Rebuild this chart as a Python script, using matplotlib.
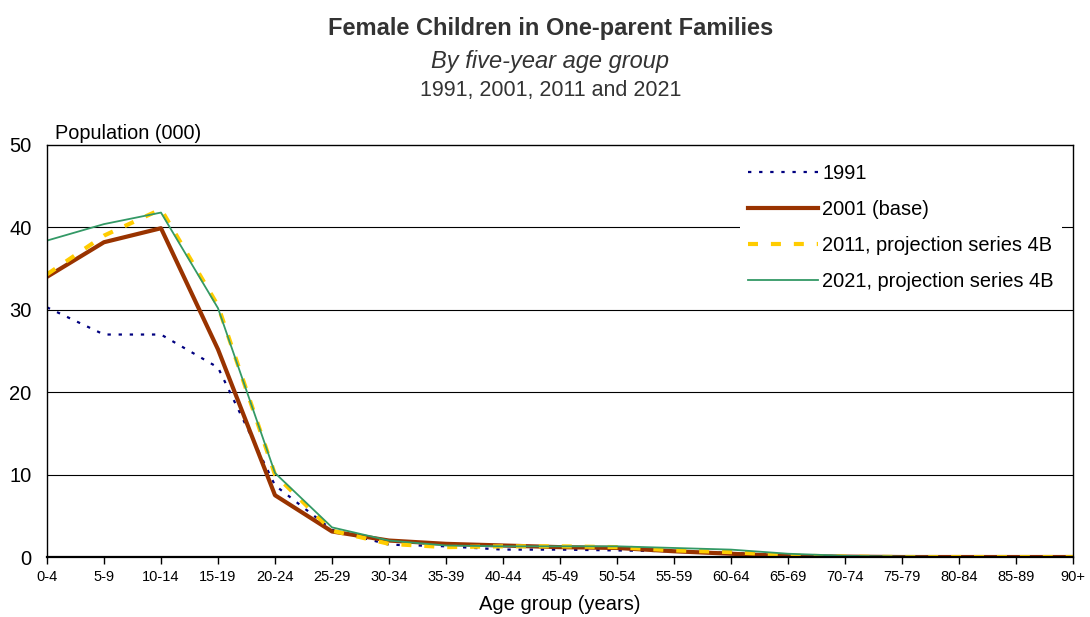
import matplotlib
matplotlib.use('Agg')
from matplotlib import pyplot as plt

plt.rcParams['font.family'] = ['Liberation Sans', 'DejaVu Sans']

ageGroups = ['0-4', '5-9', '10-14', '15-19', '20-24', '25-29', '30-34', '35-39',
             '40-44', '45-49', '50-54', '55-59', '60-64', '65-69', '70-74',
             '75-79', '80-84', '85-89', '90+']

pop1991 = [30.3, 27.0, 27.0, 23.0, 8.7, 3.3, 1.5, 1.3, 0.9, 0.9, 0.8, 0.7,
           0.5, 0.2, 0.1, 0.0, 0.0, 0.0, 0.0]
pop2001 = [34.0, 38.2, 39.9, 25.2, 7.5, 3.1, 2.0, 1.6, 1.4, 1.2, 1.1, 0.7,
           0.4, 0.1, 0.05, 0.0, 0.0, 0.0, 0.0]
pop2011 = [34.3, 39.0, 42.2, 30.5, 10.0, 3.2, 1.6, 1.2, 1.3, 1.3, 1.2, 0.8,
           0.6, 0.2, 0.05, 0.0, 0.0, 0.0, 0.0]
pop2021 = [38.4, 40.4, 41.8, 30.2, 10.2, 3.6, 2.0, 1.4, 1.3, 1.3, 1.3, 1.1,
           0.9, 0.4, 0.15, 0.05, 0.0, 0.0, 0.0]

fig = plt.figure(figsize=(10.9, 6.17), dpi=100)
ax = fig.add_axes([0.0431, 0.0972, 0.9413, 0.6678])

x = list(range(len(ageGroups)))
ax.plot(x, pop1991, color='#000080', lw=1.6, linestyle=(0, (1.5, 3.5)), label='1991')
ax.plot(x, pop2001, color='#993300', lw=3.0, label='2001 (base)')
ax.plot(x, pop2011, color='#FFCC00', lw=3.0, linestyle=(0, (2.4, 3.1)),
        label='2011, projection series 4B')
ax.plot(x, pop2021, color='#339966', lw=1.3, label='2021, projection series 4B')

ax.set_xlim(0, len(ageGroups) - 1)
ax.set_ylim(0, 50)
ax.set_xticks(x)
ax.set_xticklabels(ageGroups, fontsize=10.5)
ax.set_yticks([0, 10, 20, 30, 40, 50])
ax.tick_params(axis='y', length=0, labelsize=14.5, pad=11)
ax.tick_params(axis='x', length=5, width=1, direction='out', pad=4)
for y in [10, 20, 30, 40]:
    ax.axhline(y, color='black', lw=0.8, zorder=0)
for s in ax.spines.values():
    s.set_linewidth(1.0)
ax.spines['bottom'].set_linewidth(1.6)

ax.set_xlabel('Age group (years)', fontsize=14.5, labelpad=8)
ax.text(0.008, 1.006, 'Population (000)', transform=ax.transAxes, fontsize=14.3,
        ha='left', va='bottom')

leg = ax.legend(loc='upper right', bbox_to_anchor=(0.999, 0.997), fontsize=14.4,
                handlelength=3.5, handletextpad=0.2, labelspacing=0.85,
                frameon=True, fancybox=False, borderpad=0.4)
leg.get_frame().set_edgecolor('none')
leg.get_frame().set_facecolor('white')
leg.get_frame().set_alpha(1)

fig.text(0.505, 0.953, 'Female Children in One-parent Families', ha='center',
         va='center', fontsize=17, fontweight='bold', color='#333333')
fig.text(0.505, 0.901, 'By five-year age group', ha='center', va='center',
         fontsize=17, style='italic', color='#333333')
fig.text(0.505, 0.853, '1991, 2001, 2011 and 2021', ha='center', va='center',
         fontsize=15.5, color='#333333')

fig.savefig('out.png', dpi=100)
